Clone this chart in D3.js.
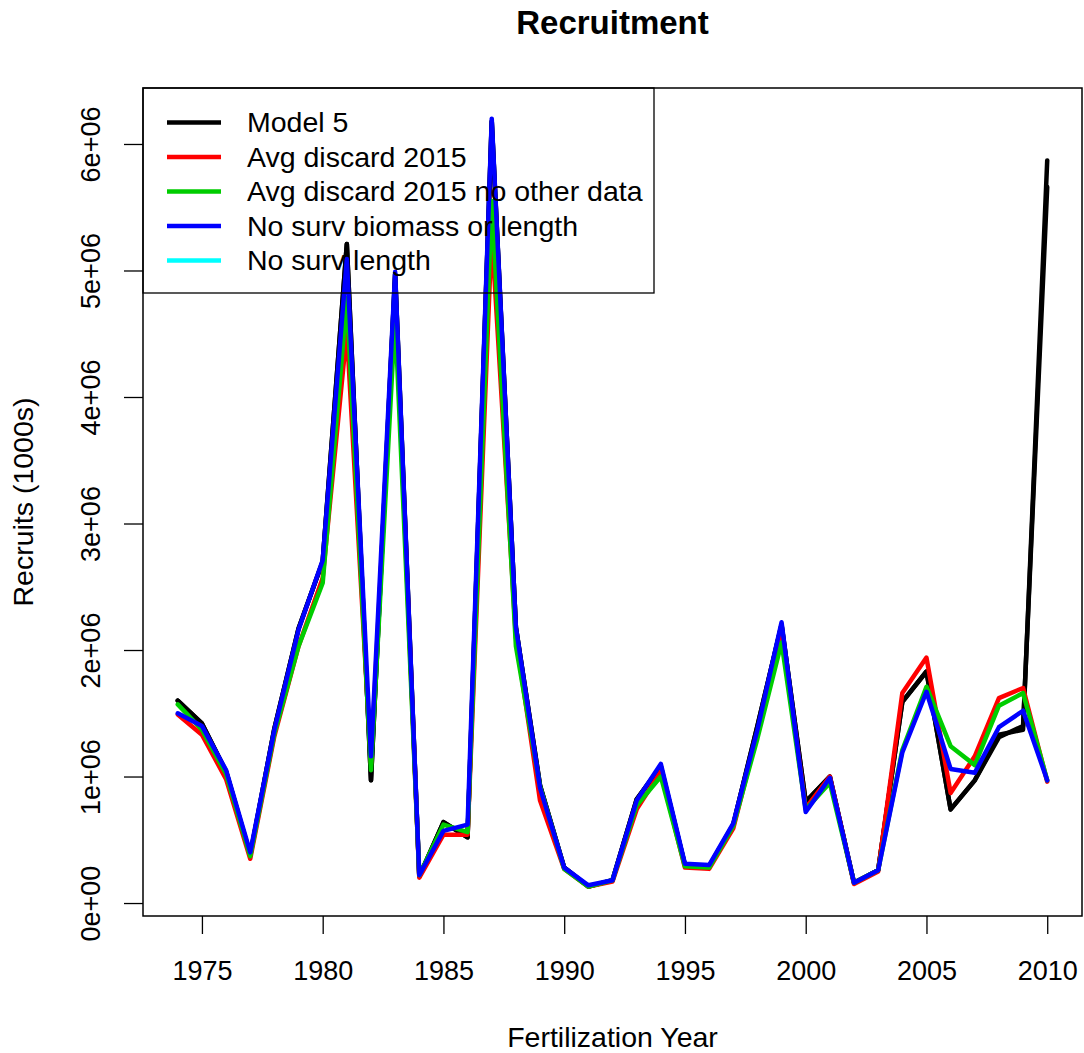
<!DOCTYPE html>
<html>
<head>
<meta charset="utf-8">
<script src="https://cdn.jsdelivr.net/npm/d3@7"></script>
<style>
  html, body { margin: 0; padding: 0; background: #fff; }
  svg { display: block; font-family: "Liberation Sans", Arial, sans-serif; }
</style>
</head>
<body>
<svg id="chart" width="1084" height="1053"></svg>
<script>
// ---- data (values in recruits, millions of 1000s) ----
const years = d3.range(1974, 2011);
const xTicks = [1975, 1980, 1985, 1990, 1995, 2000, 2005, 2010];
const yTicks = [0, 1e6, 2e6, 3e6, 4e6, 5e6, 6e6];
const yTickLabels = ["0e+00", "1e+06", "2e+06", "3e+06", "4e+06", "5e+06", "6e+06"];

const model5 = [1.60,1.42,1.04,0.38,1.38,2.17,2.70,5.21,0.97,4.97,0.21,0.64,0.52,6.18,2.18,0.93,0.28,0.13,0.18,0.82,1.08,0.30,0.29,0.62,1.40,2.20,0.80,1.00,0.16,0.26,1.59,1.83,0.74,0.97,1.33,1.37,5.87];
const avgDiscard = [1.49,1.33,0.98,0.35,1.32,2.03,2.57,4.52,1.10,4.85,0.20,0.54,0.54,5.30,2.10,0.81,0.27,0.13,0.17,0.74,1.04,0.28,0.27,0.59,1.34,2.15,0.75,1.00,0.15,0.25,1.66,1.94,0.87,1.16,1.62,1.70,0.96];
const avgDiscardNoOther = [1.57,1.37,1.02,0.37,1.34,2.03,2.53,4.78,1.05,4.64,0.22,0.62,0.56,5.55,2.03,0.92,0.27,0.13,0.18,0.77,1.00,0.29,0.28,0.61,1.30,2.06,0.74,0.95,0.16,0.26,1.21,1.71,1.24,1.09,1.56,1.66,0.97];
const noSurvBiomassLength = [1.50,1.40,1.05,0.40,1.37,2.16,2.71,5.09,1.16,4.99,0.22,0.57,0.62,6.20,2.18,0.91,0.28,0.14,0.18,0.81,1.10,0.31,0.30,0.63,1.37,2.22,0.72,0.99,0.16,0.26,1.19,1.67,1.06,1.03,1.39,1.52,0.97];
const noSurvLength = [1.60,1.42,1.04,0.38,1.38,2.17,2.70,5.21,0.97,4.97,0.21,0.64,0.52,6.18,2.18,0.93,0.28,0.13,0.18,0.82,1.08,0.30,0.29,0.62,1.40,2.20,0.80,1.00,0.16,0.26,1.59,1.83,0.74,0.97,1.31,1.40,5.66];

const seriesNames = ["Model 5", "Avg discard 2015", "Avg discard 2015 no other data", "No surv biomass or length", "No surv length"];
const legendColors = ["#000000", "#ff0000", "#00cd00", "#0000ff", "#00ffff"];
// drawing order / line colours as they appear in the plot
const drawn = [
  {values: noSurvLength, color: "#000000"},
  {values: model5, color: "#000000"},
  {values: avgDiscard, color: "#ff0000"},
  {values: avgDiscardNoOther, color: "#00cd00"},
  {values: noSurvBiomassLength, color: "#0000ff"}
];

// ---- layout ----
const svg = d3.select("#chart");
const L = 143, R = 1082, T = 88, B = 916;

const x = d3.scaleLinear().domain([1972.56, 2011.44]).range([L, R]);
const y = d3.scaleLinear().domain([-0.1025e6, 6.4425e6]).range([B, T]);

const FS = 27, FL = 28.5;

// lines
const line = d3.line().x((d, i) => x(years[i])).y(d => y(d * 1e6));
svg.append("g").selectAll("path").data(drawn).join("path")
  .attr("d", d => line(d.values))
  .attr("fill", "none")
  .attr("stroke", d => d.color)
  .attr("stroke-width", 4.5)
  .attr("stroke-linejoin", "round")
  .attr("stroke-linecap", "round");

// axes
const xAxis = d3.axisBottom(x).tickValues(xTicks).tickSize(18).tickPadding(10).tickFormat(d3.format("d"));
const gx = svg.append("g").attr("transform", `translate(0,${B})`).call(xAxis);
gx.select(".domain").remove();
gx.selectAll("line").attr("stroke", "#000").attr("stroke-width", 1.3);
gx.selectAll("text").attr("font-size", FS).attr("fill", "#000").attr("dy", null)
  .attr("y", 64);

const yAxis = d3.axisLeft(y).tickValues(yTicks).tickSize(19).tickFormat((d, i) => yTickLabels[i]);
const gy = svg.append("g").attr("transform", `translate(${L},0)`).call(yAxis);
gy.select(".domain").remove();
gy.selectAll("line").attr("stroke", "#000").attr("stroke-width", 1.3);
gy.selectAll("text").attr("font-size", FS).attr("fill", "#000")
  .attr("x", null).attr("dy", null)
  .attr("text-anchor", "middle")
  .attr("transform", "translate(-43,0) rotate(-90)")
  .attr("y", 0);

// plot box
svg.append("rect").attr("x", L).attr("y", T).attr("width", R - L).attr("height", B - T)
  .attr("fill", "none").attr("stroke", "#000").attr("stroke-width", 1.5);

// titles
svg.append("text").attr("x", (L + R) / 2).attr("y", 34).attr("text-anchor", "middle")
  .attr("font-size", 33).attr("font-weight", "bold").text("Recruitment");
svg.append("text").attr("x", (L + R) / 2).attr("y", 1047).attr("text-anchor", "middle")
  .attr("font-size", FL).text("Fertilization Year");
svg.append("text").attr("transform", `translate(33,${(T + B) / 2}) rotate(-90)`)
  .attr("text-anchor", "middle").attr("font-size", FL).text("Recruits (1000s)");

// legend
const lg = svg.append("g");
lg.append("rect").attr("x", L).attr("y", T).attr("width", 654 - L).attr("height", 293 - T)
  .attr("fill", "none").attr("stroke", "#000").attr("stroke-width", 1.3);
const rows = lg.selectAll("g.row").data(seriesNames).join("g")
  .attr("transform", (d, i) => `translate(0,${122.5 + i * 34.5})`);
rows.append("line").attr("x1", 167).attr("x2", 221).attr("y1", 0).attr("y2", 0)
  .attr("stroke", (d, i) => legendColors[i]).attr("stroke-width", 4.5);
rows.append("text").attr("x", 247).attr("y", 0).attr("dy", "0.35em")
  .attr("font-size", FL).text(d => d);
</script>
</body>
</html>
